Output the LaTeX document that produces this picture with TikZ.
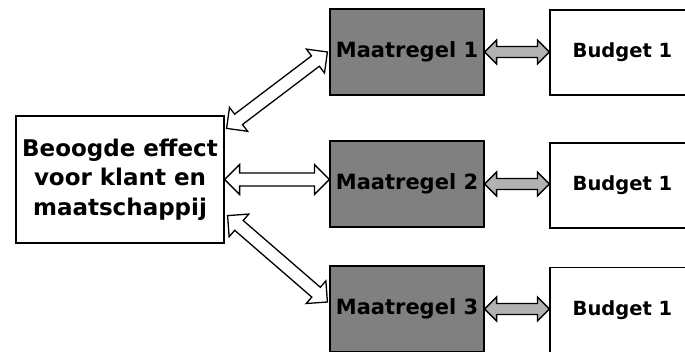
\documentclass[tikz,border=0pt]{standalone}
\usepackage{fontspec}
\setmainfont{DejaVu Sans}
\usetikzlibrary{calc}
\def\fatarrow[#1](#2)(#3)(#4:#5:#6){\draw[#1] (#2) -- ($(#2)!#6!(#3)!#4!90:(#3)$) -- ($(#2)!#6!(#3)!#5!90:(#3)$) -- ($(#3)!#6!(#2)!#5!-90:(#2)$) -- ($(#3)!#6!(#2)!#4!-90:(#2)$) -- (#3) -- ($(#3)!#6!(#2)!#4!90:(#2)$) -- ($(#3)!#6!(#2)!#5!90:(#2)$) -- ($(#2)!#6!(#3)!#5!-90:(#3)$) -- ($(#2)!#6!(#3)!#4!-90:(#3)$) -- cycle;}

\begin{document}
\begin{tikzpicture}[x=1pt, y=-1pt,
		effectbox/.style={draw, line width=1.2pt, fill=white, minimum width=208pt, minimum height=127pt, inner sep=0pt, align=center, font=\fontsize{23}{29.5}\selectfont\bfseries},
		maatbox/.style={draw, line width=1.2pt, fill=black!50, minimum width=154pt, minimum height=86pt, inner sep=0pt, font=\fontsize{21}{24}\selectfont\bfseries},
		budgetbox/.style={draw, line width=1.2pt, fill=white, minimum width=145pt, minimum height=85pt, inner sep=0pt, font=\fontsize{19.5}{24}\selectfont\bfseries},
		bigarrow/.style={line width=1.3pt, fill=white, line join=miter},
		smallarrow/.style={line width=1.3pt, fill=black!30, line join=miter}]
		%%%%% START %%%%%
		
		\useasboundingbox (0,0) rectangle (685,352);
		\clip (0,0) rectangle (685,352);
		
		\node[effectbox] (effect) at (120,179.5) {Beoogde effect\\voor klant en\\maatschappij};
		
		\node[maatbox] (maat1) at (407,52) {Maatregel 1};
		\node[maatbox] (maat2) at (407,184) {Maatregel 2};
		\node[maatbox] (maat3) at (407,309) {Maatregel 3};
		
		\node[budgetbox] (budget1) at (622.5,52.5) {Budget 1};
		\node[budgetbox] (budget2) at (622.5,185.5) {Budget 1};
		\node[budgetbox] (budget3) at (622.5,310) {Budget 1};
		
		\coordinate (effect-top) at ($(effect.north east)+(2,13)$);
		\coordinate (effect-bottom) at ($(effect.south east)+(3,-28)$);
		\coordinate (maat1-tip) at ($(maat1.west)+(-2,0)$);
		\coordinate (maat2-tip) at (effect.east -| maat2.west);
		\coordinate (maat3-tip) at ($(maat3.west)+(-2,-7)$);
		
		\fatarrow[bigarrow](effect-top)(maat1-tip)(15pt:6.5pt:15pt)
		\fatarrow[bigarrow](effect.east)(maat2-tip)(15pt:6.5pt:15pt)
		\fatarrow[bigarrow](effect-bottom)(maat3-tip)(15pt:6.5pt:15pt)
		
		\foreach \i in {1,2,3} {
			\coordinate (budget\i-tip) at (budget\i.west |- maat\i.east);
			\fatarrow[smallarrow](maat\i.east)(budget\i-tip)(12pt:5.5pt:12pt)
		}
		
		%%%%% END %%%%%
\end{tikzpicture}
\end{document}
